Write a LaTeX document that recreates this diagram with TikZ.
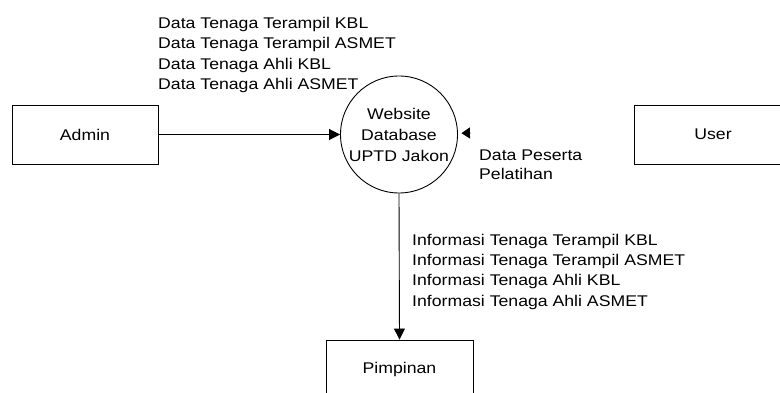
\documentclass[tikz,border=0pt]{standalone}
\usepackage{fontspec}
\setmainfont[FakeStretch=1.14]{Liberation Sans}
\usetikzlibrary{arrows.meta}
\tikzset{
  lbl/.style={anchor=base west, inner sep=0pt, font=\fontsize{15.5}{20.5}\selectfont},
  ent/.style={draw, line width=0.9pt, minimum width=146pt, minimum height=59pt, inner sep=0pt, font=\fontsize{15.5}{20.5}\selectfont},
  proc/.style={draw, circle, line width=0.9pt, minimum size=117pt, inner sep=0pt, align=center, font=\fontsize{15.5}{21}\selectfont},
  flow/.style={line width=0.9pt, -{Triangle[length=11pt,width=11pt]}}
}
\begin{document}
\begin{tikzpicture}[x=1pt,y=-1pt]
\useasboundingbox (0,0) rectangle (780,393);
\fill[white] (0,0) rectangle (780,393);
\clip (0,0) rectangle (780,393);

\node[ent] (admin) at (85,134.5) {Admin};
\node[ent, minimum width=158pt] (user) at (713,134.5) {User};
\node[ent, minimum width=147pt] (pimp) at (399.5,369.5) {Pimpinan};
\node[proc] (db) at (399,134.5) {Website\\Database\\UPTD Jakon};

\coordinate (ua) at (470.5,133);

\draw[flow] (admin.east) -- (db);
\draw[line width=0.9pt, -{Triangle[length=8.5pt,width=11pt]}, shorten >=3.5pt] (ua) -- (db);
\draw[flow] (db.south) -- (pimp.north);

\node[lbl] (t1) at (158,28.5) {Data Tenaga Terampil KBL};
\node[lbl] (t2) at (158,49) {Data Tenaga Terampil ASMET};
\node[lbl] (t3) at (158,69.5) {Data Tenaga Ahli KBL};
\node[lbl] (t4) at (158,90) {Data Tenaga Ahli ASMET};

\node[lbl] (p1) at (479,160.5) {Data Peserta};
\node[lbl] (p2) at (479,180) {Pelatihan};

\node[lbl] (b1) at (412,245) {Informasi Tenaga Terampil KBL};
\node[lbl] (b2) at (412,265.5) {Informasi Tenaga Terampil ASMET};
\node[lbl] (b3) at (412,286) {Informasi Tenaga Ahli KBL};
\node[lbl] (b4) at (412,306.5) {Informasi Tenaga Ahli ASMET};
\end{tikzpicture}
\end{document}
